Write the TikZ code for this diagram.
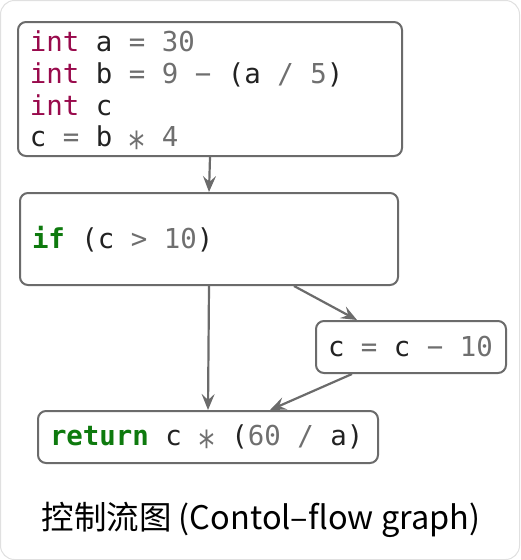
\documentclass[tikz,border=0pt]{standalone}
\usepackage{fontspec}
\usepackage{graphicx}
\newfontfamily\codefont{DejaVu Sans Mono}
\newfontfamily\cjk{Noto Sans CJK SC}
\usetikzlibrary{arrows.meta}

\definecolor{kwred}{HTML}{990A4C}
\definecolor{kwgreen}{HTML}{0E7A0E}
\definecolor{litgray}{HTML}{6F6F6F}
\definecolor{idblack}{HTML}{222222}
\definecolor{edgegray}{HTML}{6B6B6B}

\newcommand{\kwtype}[1]{\textcolor{kwred}{#1}}
\newcommand{\kwctl}[1]{\textcolor{kwgreen}{\bfseries #1}}
\newcommand{\lit}[1]{\textcolor{litgray}{#1}}
\newcommand{\mulop}{\lit{\makebox[0.602em]{\smash{\raisebox{-0.55em}{\scalebox{1.15}[1.5]{*}}}}}}

\begin{document}
\begin{tikzpicture}[x=1pt, y=-1pt,
    block/.style={draw=edgegray, line width=2pt, rounded corners=8pt, fill=white,
      align=left, inner xsep=12pt, inner ysep=0pt, text=idblack,
      font=\codefont\fontsize{27.4}{31.7}\selectfont,
      execute at begin node={\spaceskip=0.602em\relax\xspaceskip=0.602em\relax}},
    flow/.style={draw=edgegray, line width=2.2pt,
      -{Stealth[length=16pt, width=13pt, inset=6pt]}}]
    \useasboundingbox (0,0) rectangle (520,560);
    % frame round the whole figure
    \draw[black!12, line width=1pt, rounded corners=14pt] (0.5,0.5) rectangle (519.5,559.5);

    % Define the basic blocks
    \node[block, text width=360pt, minimum height=134pt] (decl) at (210,89)
        {\kwtype{int} a \lit{= 30}\\
         \kwtype{int} b \lit{= 9 −} (a \lit{/ 5})\\
         \kwtype{int} c\\
         c \lit{=} b \mulop{} \lit{4}};
    \node[block, text width=354pt, minimum height=92pt] (cond) at (209,239)
        {\kwctl{if} (c \lit{> 10})};
    \node[block, text width=166pt, minimum height=52pt] (upd) at (411,347)
        {c \lit{=} c \lit{− 10}};
    \node[block, text width=316pt, minimum height=52pt] (ret) at (208,437)
        {\kwctl{return} c \mulop{} (\lit{60 /} a)};

    \node[font=\cjk\fontsize{32.5}{36}\selectfont, text=black] (caption) at (261,520)
        {控制流图 (Contol–flow graph)};

    % draw the edges of the graph
    \draw[flow] (decl.south) -- (cond.north);
    \draw[flow] (cond.south) -- (ret.north);
    \draw[flow] ([xshift=85pt]cond.south) -- ([xshift=-54pt]upd.north);
    \draw[flow] ([xshift=-59pt]upd.south) -- ([xshift=62pt]ret.north);
\end{tikzpicture}
\end{document}
